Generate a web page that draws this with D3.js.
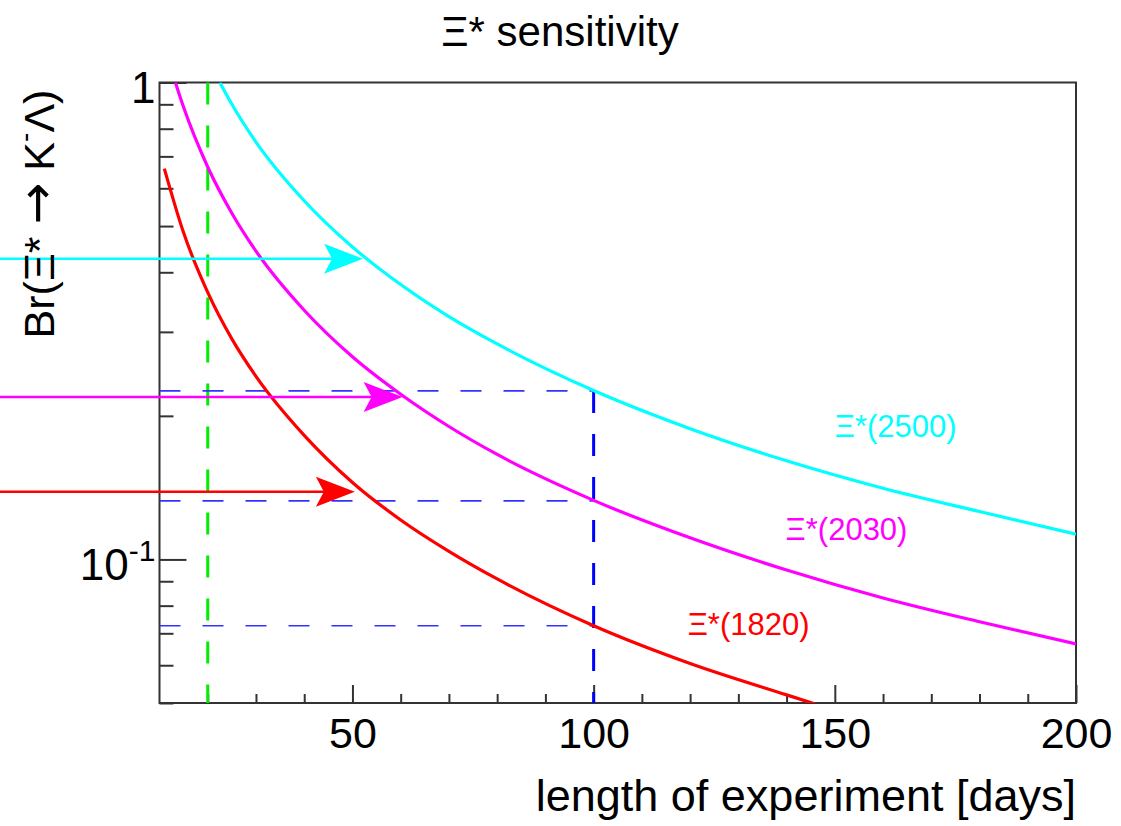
<!DOCTYPE html>
<html>
<head>
<meta charset="utf-8">
<script src="https://cdn.jsdelivr.net/npm/d3@7"></script>
<style>
  body { margin: 0; background: #fff; }
  text { font-family: "Liberation Sans", Arial, sans-serif; }
</style>
</head>
<body>
<div id="wrapper"></div>
<script>
// values
const cyanDays = [22.5, 25, 30, 40, 50, 60, 70, 80, 100, 120, 140, 160, 180, 200]
const cyanBr = [1.0, 0.90, 0.75, 0.565, 0.452, 0.377, 0.323, 0.283, 0.226, 0.188, 0.161, 0.141, 0.126, 0.113]
const magentaDays = [13.3, 15, 20, 25, 30, 40, 50, 60, 70, 80, 100, 120, 140, 160, 180, 200]
const magentaBr = [1.0, 0.887, 0.665, 0.532, 0.443, 0.333, 0.266, 0.222, 0.190, 0.166, 0.133, 0.111, 0.095, 0.083, 0.074, 0.0665]
const redDays = [11, 15, 20, 25, 30, 40, 50, 60, 70, 80, 100, 120, 140, 148]
const redBr = [0.66, 0.484, 0.363, 0.290, 0.242, 0.182, 0.145, 0.121, 0.104, 0.091, 0.0726, 0.0605, 0.052, 0.049]

const seriesNames = ["Ξ*(2500)", "Ξ*(2030)", "Ξ*(1820)"]
const seriesColors = ["#00ffff", "#ff00ff", "#ff0000"]
const labelDays = [150, 139.8, 119.5]
const labelBr = [0.181, 0.110, 0.0695]

// horizontal arrows: level and where the head ends
const arrowFrom = -24
const arrowBr = [0.427, 0.219, 0.1387]
const arrowTipDays = [52.2, 60.4, 50.5]

// dashed guides
const greenDay = 20
const blueDay = 100
const blueBr = [0.2256, 0.1327, 0.0726]

const xMajorTicks = [50, 100, 150, 200]
const xMinorTicks = [20, 30, 40, 60, 70, 80, 90, 110, 120, 130, 140, 160, 170, 180, 190]
const yMajorTicks = [0.1, 1]
const yMinorTicks = [0.05, 0.06, 0.07, 0.08, 0.09, 0.2, 0.3, 0.4, 0.5, 0.6, 0.7, 0.8, 0.9]

function drawChart() {

    // 1. dimensions
    let dimensions = {
        width: 1121,
        height: 826,
        margin: { top: 82.5, right: 45, bottom: 123, left: 159.5 },
    }
    dimensions.boundedWidth = dimensions.width - dimensions.margin.left - dimensions.margin.right
    dimensions.boundedHeight = dimensions.height - dimensions.margin.top - dimensions.margin.bottom

    // 2. canvas
    const wrapper = d3.select("#wrapper")
        .append("svg")
        .attr("width", dimensions.width)
        .attr("height", dimensions.height)

    const bounds = wrapper.append("g")
        .attr("transform", `translate(${dimensions.margin.left},${dimensions.margin.top})`)

    bounds.append("clipPath").attr("id", "plotClip")
        .append("rect")
        .attr("width", dimensions.boundedWidth)
        .attr("height", dimensions.boundedHeight)

    // 3. scales
    const xScale = d3.scaleLinear()
        .domain([10, 200])
        .range([0, dimensions.boundedWidth])

    const yScale = d3.scaleLog()
        .domain([0.05, 1])
        .range([dimensions.boundedHeight, 0])

    // 4. axes
    const xMinor = bounds.append("g")
        .attr("transform", `translate(0,${dimensions.boundedHeight})`)
        .call(d3.axisBottom(xScale).tickValues(xMinorTicks).tickSize(-9).tickFormat(""))
    const xMajor = bounds.append("g")
        .attr("transform", `translate(0,${dimensions.boundedHeight})`)
        .call(d3.axisBottom(xScale).tickValues(xMajorTicks).tickSize(-18).tickPadding(14).tickFormat(d3.format("d")))
    const yMinor = bounds.append("g")
        .call(d3.axisLeft(yScale).tickValues(yMinorTicks).tickSize(-14).tickFormat(""))
    const yMajor = bounds.append("g")
        .call(d3.axisLeft(yScale).tickValues(yMajorTicks).tickSize(-27).tickPadding(4).tickFormat(""))

    for (const ax of [xMinor, xMajor, yMinor, yMajor]) {
        ax.select(".domain").remove()
        ax.selectAll(".tick line").attr("stroke", "#333").attr("stroke-width", 2)
    }
    xMajor.selectAll(".tick text")
        .attr("font-size", 43)
        .attr("fill", "#000")

    // y labels: 1 and 10^-1
    yMajor.selectAll(".tick").each(function (d) {
        const t = d3.select(this).append("text")
            .attr("x", -4)
            .attr("dy", 20)
            .attr("text-anchor", "end")
            .attr("font-size", 44)
            .attr("fill", "#000")
        if (d === 1) {
            t.text("1")
        } else {
            t.append("tspan").text("10")
            t.append("tspan").attr("dy", -19).attr("font-size", 30).text("-1")
        }
    })

    // frame
    bounds.append("rect")
        .attr("width", dimensions.boundedWidth)
        .attr("height", dimensions.boundedHeight)
        .attr("fill", "none")
        .attr("stroke", "#333")
        .attr("stroke-width", 2)

    // 5. guides
    bounds.append("line")
        .attr("x1", xScale(greenDay)).attr("x2", xScale(greenDay))
        .attr("y1", 0).attr("y2", dimensions.boundedHeight)
        .attr("stroke", "#00ee00")
        .attr("stroke-width", 3)
        .attr("stroke-dasharray", "22,21")

    bounds.selectAll(".blueH")
        .data(blueBr)
        .join("line")
        .attr("class", "blueH")
        .attr("x1", 0).attr("x2", xScale(blueDay))
        .attr("y1", d => yScale(d)).attr("y2", d => yScale(d))
        .attr("stroke", "#3333ff")
        .attr("stroke-width", 1.6)
        .attr("stroke-dasharray", "21,22")

    bounds.append("line")
        .attr("x1", xScale(blueDay)).attr("x2", xScale(blueDay))
        .attr("y1", yScale(d3.max(blueBr))).attr("y2", dimensions.boundedHeight)
        .attr("stroke", "#0000ff")
        .attr("stroke-width", 3)
        .attr("stroke-dasharray", "22,21")

    // 6. curves
    const series = [
        { days: cyanDays, br: cyanBr },
        { days: magentaDays, br: magentaBr },
        { days: redDays, br: redBr },
    ]
    const lineGenerator = d3.line()
        .x(d => xScale(d[0]))
        .y(d => yScale(d[1]))
        .curve(d3.curveMonotoneX)

    bounds.append("g")
        .attr("clip-path", "url(#plotClip)")
        .selectAll("path")
        .data(series)
        .join("path")
        .attr("d", s => lineGenerator(d3.zip(s.days, s.br)))
        .attr("fill", "none")
        .attr("stroke", (s, i) => seriesColors[i])
        .attr("stroke-width", 3.2)

    // 7. arrows
    const arrows = bounds.selectAll(".arrow")
        .data(arrowBr)
        .join("g")
        .attr("class", "arrow")
    arrows.append("line")
        .attr("x1", xScale(arrowFrom))
        .attr("x2", (d, i) => xScale(arrowTipDays[i]) - 20)
        .attr("y1", d => yScale(d)).attr("y2", d => yScale(d))
        .attr("stroke", (d, i) => seriesColors[i])
        .attr("stroke-width", 2.5)
    arrows.append("path")
        .attr("d", (d, i) => {
            const x = xScale(arrowTipDays[i]), y = yScale(d)
            return `M${x},${y}L${x - 39},${y - 15}L${x - 31},${y}L${x - 39},${y + 15}Z`
        })
        .attr("fill", (d, i) => seriesColors[i])

    // 8. labels
    bounds.selectAll(".seriesLabel")
        .data(seriesNames)
        .join("text")
        .attr("class", "seriesLabel")
        .attr("x", (d, i) => xScale(labelDays[i]))
        .attr("y", (d, i) => yScale(labelBr[i]))
        .attr("font-size", 31)
        .attr("fill", (d, i) => seriesColors[i])
        .text(d => d)

    wrapper.append("text")
        .attr("x", 560)
        .attr("y", 46)
        .attr("text-anchor", "middle")
        .attr("font-size", 42)
        .text("Ξ* sensitivity")

    wrapper.append("text")
        .attr("x", dimensions.margin.left + dimensions.boundedWidth)
        .attr("y", 811)
        .attr("text-anchor", "end")
        .attr("font-size", 45)
        .text("length of experiment [days]")

    const yLabel = wrapper.append("text")
        .attr("transform", "translate(54,214) rotate(-90)")
        .attr("text-anchor", "middle")
        .attr("font-size", 43)
    yLabel.append("tspan").text("Br(Ξ* ")
    yLabel.append("tspan").attr("font-family", "DejaVu Sans").attr("font-size", 50).text("→")
    yLabel.append("tspan").text(" K")
    yLabel.append("tspan").attr("dy", -20).attr("font-size", 28).text("-")
    yLabel.append("tspan").attr("dy", 20).text("Λ)")
}
drawChart()
</script>
</body>
</html>
